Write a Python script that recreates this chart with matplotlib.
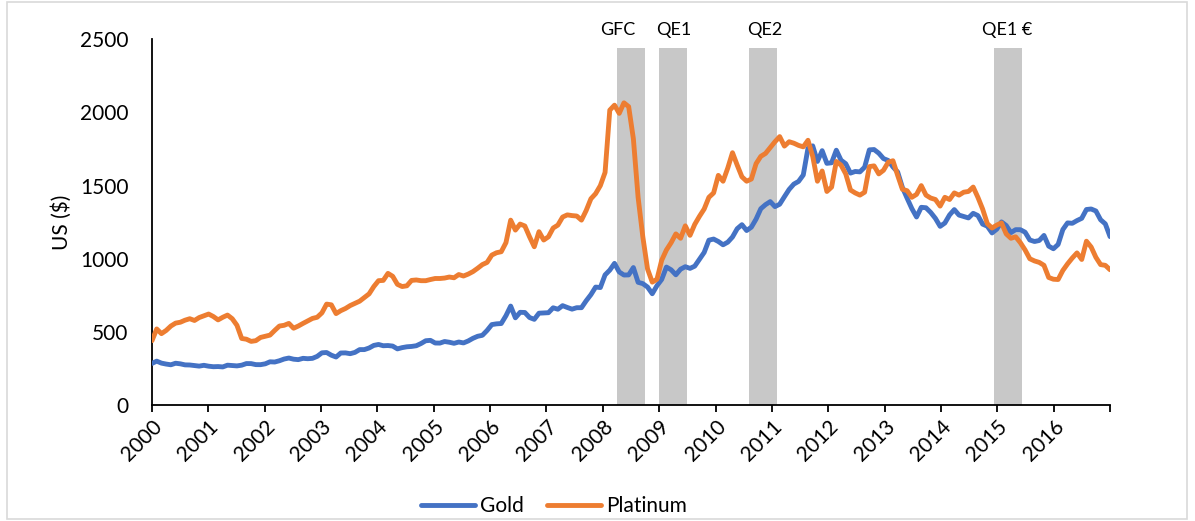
import numpy as np
import matplotlib.pyplot as plt
from matplotlib.patches import Rectangle

# monthly averages, Jan 2000 - Dec 2016
gold = [
    284.6, 300.0, 286.4, 280.0, 275.1, 285.7, 281.6, 274.5, 273.7, 270.0, 266.0, 271.5,  # 2000
    265.5, 261.9, 263.0, 260.5, 272.4, 270.2, 267.5, 272.4, 283.4, 283.1, 276.2, 275.9,  # 2001
    281.7, 295.5, 294.0, 302.7, 314.5, 321.2, 313.3, 310.3, 319.2, 316.6, 319.1, 332.6,  # 2002
    356.9, 359.0, 340.6, 328.2, 355.7, 356.4, 351.0, 359.8, 378.9, 378.9, 389.9, 407.6,  # 2003
    414.0, 405.3, 406.7, 403.0, 383.8, 392.4, 398.1, 400.5, 405.3, 420.5, 439.4, 442.1,  # 2004
    424.0, 423.4, 434.2, 429.2, 421.9, 430.7, 424.5, 437.9, 456.0, 469.9, 476.7, 509.8,  # 2005
    549.9, 555.0, 557.1, 610.6, 676.5, 596.2, 633.8, 632.6, 598.2, 585.8, 627.8, 629.8,  # 2006
    631.2, 664.8, 654.9, 679.4, 666.9, 655.5, 665.3, 665.4, 712.7, 754.6, 806.3, 803.2,  # 2007
    889.6, 922.3, 968.4, 909.7, 888.7, 889.5, 939.8, 839.0, 829.9, 806.6, 760.9, 816.1,  # 2008
    858.7, 943.2, 924.3, 890.2, 928.6, 945.7, 934.2, 949.4, 996.6, 1043.2, 1127.0, 1134.7,  # 2009
    1118.0, 1095.4, 1113.3, 1148.7, 1205.4, 1232.9, 1193.0, 1215.8, 1271.0, 1342.0, 1369.9, 1390.6,  # 2010
    1356.4, 1372.7, 1424.0, 1473.8, 1510.4, 1528.7, 1572.8, 1755.8, 1771.9, 1665.2, 1739.0, 1652.3,  # 2011
    1656.1, 1742.1, 1673.8, 1649.7, 1585.5, 1596.7, 1593.9, 1626.0, 1744.5, 1746.6, 1721.6, 1684.8,  # 2012
    1671.9, 1627.6, 1593.1, 1487.9, 1414.0, 1343.4, 1285.5, 1351.7, 1348.6, 1316.6, 1275.9, 1221.5,  # 2013
    1244.3, 1299.6, 1336.1, 1298.5, 1288.7, 1279.1, 1310.6, 1295.1, 1236.6, 1222.5, 1176.3, 1202.3,  # 2014
    1251.9, 1227.1, 1178.6, 1198.9, 1198.6, 1181.5, 1128.3, 1117.9, 1124.8, 1159.3, 1086.4, 1068.3,  # 2015
    1097.9, 1199.5, 1245.1, 1242.3, 1260.9, 1276.4, 1336.7, 1340.2, 1326.6, 1266.5, 1238.4, 1151.4,  # 2016
]
platinum = [
    440, 520, 488, 510, 540, 560, 566, 580, 590, 578, 598, 610,  # 2000
    622, 605, 582, 600, 615, 590, 545, 455, 450, 435, 440, 462,  # 2001
    470, 478, 510, 540, 545, 558, 525, 540, 558, 575, 592, 600,  # 2002
    630, 690, 685, 625, 645, 660, 680, 695, 710, 735, 760, 810,  # 2003
    850, 852, 900, 880, 825, 810, 815, 852, 855, 850, 850, 858,  # 2004
    865, 865, 868, 875, 870, 892, 882, 895, 912, 935, 960, 975,  # 2005
    1025, 1041, 1048, 1110, 1264, 1196, 1237, 1224, 1150, 1082, 1185, 1128,  # 2006
    1150, 1210, 1230, 1285, 1300, 1295, 1292, 1264, 1330, 1410, 1445, 1500,  # 2007
    1590, 2016, 2050, 1994, 2066, 2040, 1820, 1420, 1150, 930, 840, 860,  # 2008
    990, 1060, 1110, 1170, 1140, 1225, 1160, 1235, 1290, 1340, 1420, 1450,  # 2009
    1570, 1530, 1620, 1725, 1640, 1560, 1530, 1545, 1650, 1700, 1720, 1760,  # 2010
    1800, 1835, 1770, 1800, 1790, 1775, 1765, 1810, 1700, 1530, 1600, 1460,  # 2011
    1490, 1665, 1640, 1580, 1470, 1450, 1435, 1455, 1630, 1635, 1580, 1605,  # 2012
    1660, 1670, 1570, 1475, 1465, 1420, 1440, 1500, 1435, 1415, 1405, 1360,  # 2013
    1420, 1405, 1450, 1435, 1455, 1460, 1490, 1420, 1340, 1240, 1210, 1230,  # 2014
    1245, 1170, 1140, 1150, 1110, 1060, 1000, 985, 975, 955, 872, 860,  # 2015
    858, 920, 965, 1005, 1040, 995, 1120, 1080, 1010, 960, 955, 925,  # 2016
]
years = list(range(2000, 2017))
events = ["GFC", "QE1", "QE2", "QE1 €"]
event_start = [2008.26, 2009.0, 2010.6, 2014.94]
event_end = [2008.75, 2009.5, 2011.09, 2015.43]
event_label_x = [2008.26, 2009.25, 2010.88, 2015.18]

plt.rcParams['font.family'] = ['Lato', 'DejaVu Sans']

# points are spread evenly over the 17 year axis, like the Excel original
x = np.linspace(2000, 2017, len(gold))

fig = plt.figure(figsize=(11.95, 5.21), dpi=100)
ax = fig.add_axes([0.1272, 0.2226, 0.8017, 0.7019])

for label, x0, x1, lx in zip(events, event_start, event_end, event_label_x):
    ax.axvspan(x0, x1, ymin=0, ymax=2440 / 2500, color='#c8c8c8', lw=0, zorder=1)
    ax.text(lx, 2565, label, ha='center', va='center', fontsize=13, clip_on=False)

ax.plot(x, gold, color='#4472c4', lw=3.5, label='Gold', zorder=3,
        solid_joinstyle='round', solid_capstyle='round')
ax.plot(x, platinum, color='#ed7d31', lw=3.5, label='Platinum', zorder=3,
        solid_joinstyle='round', solid_capstyle='round')

ax.set_xlim(2000, 2017)
ax.set_ylim(0, 2500)
ax.set_xticks(years + [2017])
ax.set_xticklabels([str(y) for y in years] + [''])
ax.set_yticks(range(0, 2501, 500))
ax.set_ylabel('US ($)', fontsize=15, labelpad=6)

for s in ['top', 'right']:
    ax.spines[s].set_visible(False)
ax.spines['left'].set_linewidth(1.3)
ax.spines['bottom'].set_linewidth(1.3)
ax.tick_params(axis='y', length=0, pad=17, labelsize=15)
ax.tick_params(axis='x', length=5, width=1.3, direction='out', pad=3, labelsize=15)
for lab in ax.get_xticklabels():
    lab.set_rotation(45)
    lab.set_ha('right')
    lab.set_va('top')
    lab.set_rotation_mode('anchor')

fig.legend(loc='center', bbox_to_anchor=(0.4637, 0.028), ncol=2, frameon=False,
           fontsize=15, handlelength=2.6, handletextpad=0.25, columnspacing=1.1)

fig.patches.append(Rectangle((7 / 1195, 2 / 521), 1180 / 1195, 517 / 521,
                             transform=fig.transFigure, fill=False,
                             edgecolor='#d9d9d9', lw=1.2))

fig.savefig('out.png', dpi=100)
